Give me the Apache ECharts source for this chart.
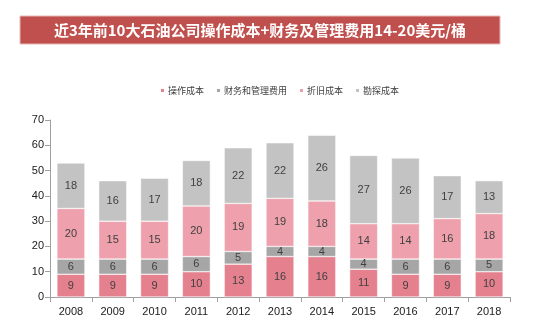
<!DOCTYPE html>
<html><head><meta charset="utf-8">
<script src="https://cdn.jsdelivr.net/npm/echarts@6/dist/echarts.min.js"></script>
<style>html,body{margin:0;padding:0;background:#fff}#c{width:550px;height:332px}</style>
</head><body><div id="c"></div>
<script>
const years = ['2008','2009','2010','2011','2012','2013','2014','2015','2016','2017','2018'];
const opCost = [9,9,9,10,13,16,16,11,9,9,10];
const finAdmin = [6,6,6,6,5,4,4,4,6,6,5];
const depCost = [20,15,15,20,19,19,18,14,14,16,18];
const expCost = [18,16,17,18,22,22,26,27,26,17,13];
const seriesNames = ['操作成本','财务和管理费用','折旧成本','勘探成本'];
const colors = ['#e5808f','#a6a6a6','#eea0ac','#c3c3c3'];
const font = '"Liberation Sans", Arial, "Noto Sans CJK SC", sans-serif';
const chart = echarts.init(document.getElementById('c'));
const datas = [opCost, finAdmin, depCost, expCost];
chart.setOption({
  animation:false,
  graphic:[
    {type:'rect', shape:{x:20,y:16,width:480,height:28}, style:{fill:'#c0504d', stroke:'#e6b9b8', lineWidth:1}},
    {type:'text', x:260, y:30, style:{text:'近3年前10大石油公司操作成本+财务及管理费用14-20美元/桶', fill:'#fff', font:'bold 15px "Noto Sans CJK SC", sans-serif', align:'center', verticalAlign:'middle'}}
  ],
  legend:{
    top:81, left:154, itemWidth:5, itemHeight:5, itemGap:11, icon:'rect',
    textStyle:{fontSize:9, color:'#404040', fontFamily:'"Noto Sans CJK SC", sans-serif', padding:[0,0,0,-2]},
    data:seriesNames
  },
  grid:{left:50, right:40, top:120, bottom:35},
  xAxis:{type:'category', data:years,
    axisLine:{lineStyle:{color:'#a0a0a0'}},
    axisTick:{show:true, lineStyle:{color:'#a0a0a0'}},
    axisLabel:{color:'#202020', fontSize:11, fontFamily:font, margin:9}},
  yAxis:{type:'value', min:0, max:70, interval:10,
    axisLine:{show:true, lineStyle:{color:'#a0a0a0'}},
    axisTick:{show:true, lineStyle:{color:'#a0a0a0'}},
    splitLine:{show:false},
    axisLabel:{color:'#202020', fontSize:11, fontFamily:font, margin:6}},
  series: seriesNames.map((n,i)=>({
    name:n, type:'bar', stack:'s', data:datas[i], barWidth:'67%',
    itemStyle:{color:colors[i], borderColor:'#fff', borderWidth:0.5},
    label:{show:true, position:'inside', color:'#404040', fontSize:11, fontFamily:font}
  }))
});
</script></body></html>
